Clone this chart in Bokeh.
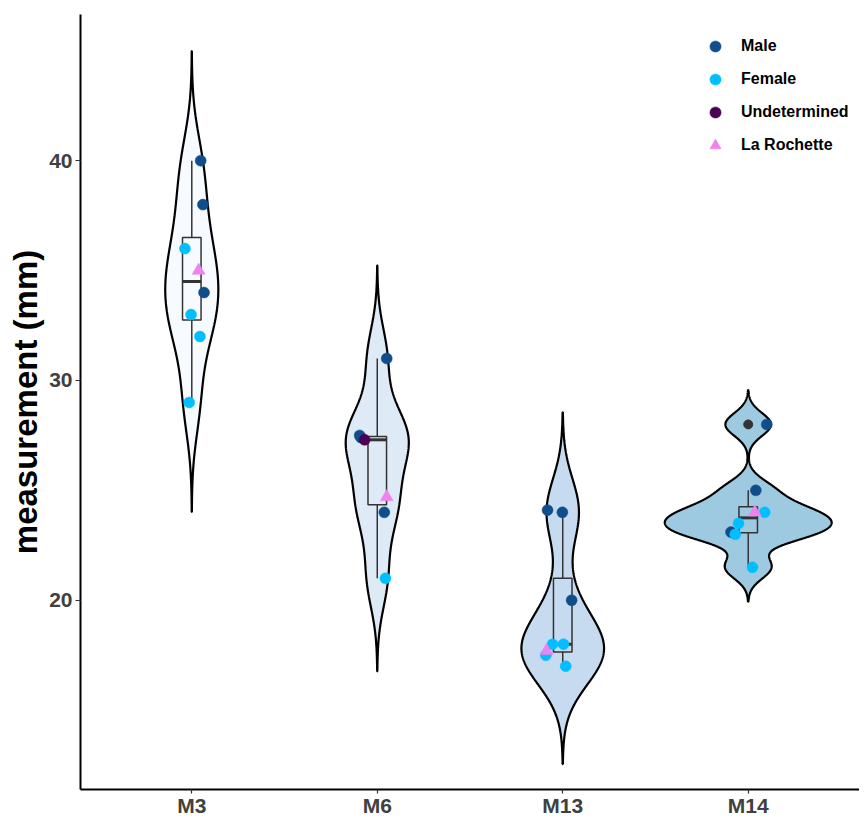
import numpy as np
from bokeh.plotting import figure
from bokeh.models import FixedTicker, Legend, LegendItem, ColumnDataSource, Range1d
from bokeh.embed import file_html
from bokeh.resources import INLINE

# ---------------- data ----------------
categories = ["M3", "M6", "M13", "M14"]
violin_fills = ["#F7FBFF", "#DEEBF7", "#C6DBEF", "#9ECAE1"]

m3_values = [40.0, 38.0, 36.0, 35.0, 34.0, 33.0, 32.0, 29.0]
m3_groups = ["Male", "Male", "Female", "La Rochette", "Male", "Female", "Female", "Female"]
m3_jitter = [0.048, 0.060, -0.037, 0.037, 0.066, -0.004, 0.044, -0.014]

m6_values = [31.0, 27.5, 27.4, 27.3, 24.7, 24.0, 21.0]
m6_groups = ["Male", "Male", "Male", "Undetermined", "La Rochette", "Male", "Female"]
m6_jitter = [0.051, -0.095, -0.088, -0.068, 0.051, 0.038, 0.044]

m13_values = [24.1, 24.0, 20.0, 18.0, 18.0, 17.7, 17.5, 17.0]
m13_groups = ["Male", "Male", "Male", "Female", "Female", "La Rochette", "Female", "Female"]
m13_jitter = [-0.082, -0.002, 0.048, -0.055, 0.004, -0.087, -0.091, 0.016]

m14_values = [28.0, 25.0, 24.0, 24.0, 23.5, 23.1, 23.0, 21.5]
m14_groups = ["Male", "Male", "La Rochette", "Female", "Female", "Male", "Female", "Female"]
m14_jitter = [0.100, 0.041, 0.036, 0.089, -0.052, -0.093, -0.070, 0.023]

all_values = [m3_values, m6_values, m13_values, m14_values]
all_groups = [m3_groups, m6_groups, m13_groups, m14_groups]
all_jitter = [m3_jitter, m6_jitter, m13_jitter, m14_jitter]

group_names = ["Male", "Female", "Undetermined", "La Rochette"]
group_colors = ["#104E8B", "#00BFFF", "#4B0055", "#EE82EE"]
group_markers = ["circle", "circle", "circle", "triangle"]

y_ticks = [20, 30, 40]


# ---------------- stats ----------------
def bw_nrd0(x):
    x = np.asarray(x, float)
    hi = np.std(x, ddof=1)
    q75, q25 = np.percentile(x, [75, 25])
    lo = min(hi, (q75 - q25) / 1.34)
    if lo == 0:
        lo = hi if hi > 0 else 1.0
    return 0.9 * lo * len(x) ** -0.2


dens_list = []
for vals in all_values:
    v = np.asarray(vals, float)
    bw = bw_nrd0(v)
    grid = np.linspace(v.min() - 3 * bw, v.max() + 3 * bw, 512)
    d = np.exp(-0.5 * ((grid[:, None] - v[None, :]) / bw) ** 2).sum(axis=1)
    d = d / (len(v) * bw * np.sqrt(2 * np.pi))
    dens_list.append((grid, d))
max_d = max(d.max() for _, d in dens_list)

vx, vy = [], []
for i, (grid, d) in enumerate(dens_list):
    c = i + 1
    hw = 0.45 * d / max_d
    vx.append(list(np.concatenate([c - hw, (c + hw)[::-1]])))
    vy.append(list(np.concatenate([grid, grid[::-1]])))

box = dict(left=[], right=[], q1=[], q3=[], med=[], x=[], up_lo=[], up_hi=[], lo_lo=[], lo_hi=[])
out_x, out_y = [], []
for i, vals in enumerate(all_values):
    v = np.asarray(vals, float)
    c = i + 1
    q1, med, q3 = np.percentile(v, [25, 50, 75])
    iqr = q3 - q1
    inside = v[(v >= q1 - 1.5 * iqr) & (v <= q3 + 1.5 * iqr)]
    box["left"].append(c - 0.05)
    box["right"].append(c + 0.05)
    box["q1"].append(q1)
    box["q3"].append(q3)
    box["med"].append(med)
    box["x"].append(c)
    box["up_lo"].append(q3)
    box["up_hi"].append(inside.max())
    box["lo_lo"].append(inside.min())
    box["lo_hi"].append(q1)
    for o in v[(v < q1 - 1.5 * iqr) | (v > q3 + 1.5 * iqr)]:
        out_x.append(c)
        out_y.append(o)
box_src = ColumnDataSource(box)

# ---------------- figure ----------------
p = figure(width=859, height=819, output_backend="svg", toolbar_location=None,
           x_range=Range1d(0.4, 4.6), y_range=Range1d(11.39, 46.65),
           min_border_left=80, min_border_top=14, min_border_right=0, min_border_bottom=0)
p.outline_line_color = None
p.xgrid.visible = False
p.ygrid.visible = False
p.background_fill_color = "white"

p.patches(vx, vy, fill_color=violin_fills, line_color="black", line_width=2.2)

p.quad(left="left", right="right", bottom="q1", top="q3", source=box_src,
       fill_alpha=0, line_color="#333333", line_width=1.5)
p.segment(x0="x", x1="x", y0="up_lo", y1="up_hi", source=box_src, line_color="#333333", line_width=1.5)
p.segment(x0="x", x1="x", y0="lo_lo", y1="lo_hi", source=box_src, line_color="#333333", line_width=1.5)
p.segment(x0="left", x1="right", y0="med", y1="med", source=box_src, line_color="#333333", line_width=3)
p.scatter(out_x, out_y, size=9, color="#333333")

items = []
for g, col, mk in zip(group_names, group_colors, group_markers):
    xs, ys = [], []
    for i in range(len(all_values)):
        for val, grp, jt in zip(all_values[i], all_groups[i], all_jitter[i]):
            if grp == g:
                xs.append(i + 1 + jt)
                ys.append(val)
    r = p.scatter(xs, ys, marker=mk, size=13 if mk == "triangle" else 11,
                  fill_color=col, line_color=col, line_width=0.5)
    items.append(LegendItem(label=g, renderers=[r]))

legend = Legend(items=items, location=(616, 625), border_line_alpha=0,
                background_fill_alpha=0, padding=5, spacing=5,
                glyph_width=28, glyph_height=28, label_height=28,
                label_standoff=12, label_text_font="Liberation Sans",
                label_text_font_style="bold", label_text_font_size="16px",
                label_text_color="black")
p.add_layout(legend)

p.xaxis.ticker = FixedTicker(ticks=[1, 2, 3, 4])
p.xaxis.major_label_overrides = {i + 1: c for i, c in enumerate(categories)}
p.yaxis.ticker = FixedTicker(ticks=y_ticks)
p.yaxis.axis_label = "measurement (mm)"
for ax in (p.xaxis, p.yaxis):
    ax.axis_line_color = "black"
    ax.axis_line_width = 2
    ax.major_tick_line_color = "#333333"
    ax.major_tick_line_width = 1.2
    ax.major_tick_out = 5
    ax.major_tick_in = 0
    ax.minor_tick_line_color = None
    ax.major_label_text_font = "Liberation Sans"
    ax.major_label_text_font_style = "bold"
    ax.major_label_text_font_size = "21px"
    ax.major_label_text_color = "#404040"
    ax.major_label_text_line_height = 1.0
    ax.major_label_standoff = 3
p.xaxis.major_tick_out = 4
p.xaxis.major_label_standoff = 0
p.yaxis.axis_label_text_font = "Liberation Sans"
p.yaxis.axis_label_text_font_style = "bold"
p.yaxis.axis_label_text_font_size = "33px"
p.yaxis.axis_label_text_color = "black"
p.yaxis.axis_label_standoff = 2

open("out.html", "w").write(file_html(p, INLINE))
